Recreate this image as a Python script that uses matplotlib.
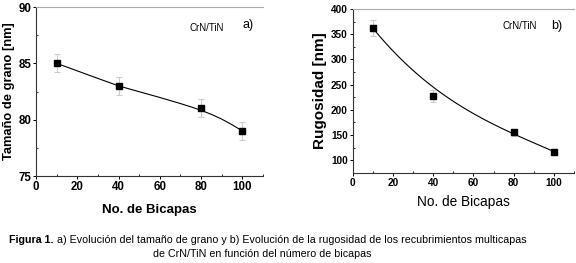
import numpy as np
import matplotlib
matplotlib.use("Agg")
import matplotlib.pyplot as plt
from matplotlib.ticker import MultipleLocator

plt.rcParams['font.family'] = ['Liberation Sans', 'DejaVu Sans']

# ---- data ----
bicapas = [10, 40, 80, 100]
grano = [85.0, 83.0, 81.0, 79.0]
grano_err = [0.8, 0.8, 0.8, 0.8]
rugosidad = [362, 228, 155, 117]
rug_err = [16, 12, 7, 5]
# smooth fit curves
fit_a_x = [10, 20, 30, 40, 50, 60, 70, 75, 80, 85, 90, 95, 100]
fit_a_y = [85.0, 84.33, 83.66, 83.0, 82.48, 81.97, 81.43, 81.14, 80.83, 80.47, 80.05, 79.55, 79.0]
fit_b_x = [10, 40, 80, 100]
fit_b_y = [362, 245, 152, 117]

W, H = 576, 263
fig = plt.figure(figsize=(W / 100, H / 100), dpi=100)


def ax_px(x0, y0, x1, y1):
    return fig.add_axes([x0 / W, 1 - y1 / H, (x1 - x0) / W, (y1 - y0) / H])


def style(ax, fs, bold=True):
    ax.spines['right'].set_visible(False)
    ax.spines['top'].set_color('#aaaaaa')
    ax.spines['top'].set_linewidth(0.8)
    for s in ('left', 'bottom'):
        ax.spines[s].set_linewidth(0.8)
        ax.spines[s].set_color('#333333')
    ax.tick_params(which='major', direction='out', length=2.5, width=0.7,
                   labelsize=fs, pad=1, top=False, right=False)
    ax.tick_params(which='minor', direction='in', length=1.5, width=0.6,
                   top=False, right=False)
    for lab in ax.get_xticklabels() + ax.get_yticklabels():
        lab.set_fontweight('bold' if bold else 'normal')


xs = np.linspace(10, 100, 200)

# ---- panel a ----
ax1 = ax_px(36, 7, 263, 176)
ax1.plot(fit_a_x, fit_a_y, color='black', lw=0.8)
ax1.errorbar(bicapas, grano, yerr=grano_err, fmt='none', ecolor='#cccccc',
             elinewidth=0.8, capsize=2, capthick=0.8)
ax1.plot(bicapas, grano, 's', color='black', ms=4.5)
ax1.set_xlim(0, 110)
ax1.set_ylim(75, 90)
ax1.set_xticks([0, 20, 40, 60, 80, 100])
ax1.xaxis.set_minor_locator(MultipleLocator(10))
ax1.yaxis.set_major_locator(MultipleLocator(5))
ax1.yaxis.set_minor_locator(MultipleLocator(2.5))
style(ax1, 8.3)
ax1.set_xlabel('No. de Bicapas', fontsize=9.5, fontweight='bold', labelpad=8)
ax1.set_ylabel('Tamaño de grano [nm]', fontsize=9.3, fontweight='bold', labelpad=2)
fig.text(248 / W, 1 - 25 / H, 'a)', fontsize=9, ha='center', va='center')
fig.text(207 / W, 1 - 28 / H, 'CrN/TiN', fontsize=7, ha='center', va='center')

# ---- panel b ----
ax2 = ax_px(352.7, 9, 574, 172.7)
cb = np.polyfit(fit_b_x, fit_b_y, 3)
ax2.plot(xs, np.polyval(cb, xs), color='black', lw=0.8)
ax2.errorbar(bicapas, rugosidad, yerr=rug_err, fmt='none', ecolor='#cccccc',
             elinewidth=0.8, capsize=2, capthick=0.8)
ax2.plot(bicapas, rugosidad, 's', color='black', ms=4.5)
ax2.set_xlim(0, 110)
ax2.set_ylim(75, 400)
ax2.set_xticks([0, 20, 40, 60, 80, 100])
ax2.xaxis.set_minor_locator(MultipleLocator(10))
ax2.set_yticks([100, 150, 200, 250, 300, 350, 400])
ax2.yaxis.set_minor_locator(MultipleLocator(25))
style(ax2, 7.2)
ax2.set_xlabel('No. de Bicapas', fontsize=9.8, labelpad=5)
ax2.set_ylabel('Rugosidad [nm]', fontsize=11, fontweight='bold', labelpad=3)
fig.text(520 / W, 1 - 26 / H, 'CrN/TiN', fontsize=7, ha='center', va='center')
fig.text(557 / W, 1 - 26 / H, 'b)', fontsize=9, ha='center', va='center')

# ---- caption ----
line1_bold = 'Figura 1.'
line1_rest = ' a) Evolución del tamaño de grano y b) Evolución de la rugosidad de los recubrimientos multicapas'
cap_fs = 7.62
t1 = fig.text(9 / W, 1 - 240 / H, line1_bold, fontsize=cap_fs, fontweight='bold',
              ha='left', va='center')
fig.canvas.draw()
bb = t1.get_window_extent()
fig.text(bb.x1 / W, 1 - 240 / H, line1_rest, fontsize=cap_fs, ha='left', va='center')
fig.text(262 / W, 1 - 254 / H, 'de CrN/TiN en función del número de bicapas',
         fontsize=cap_fs, ha='center', va='center')

fig.savefig('out.png', dpi=100)
